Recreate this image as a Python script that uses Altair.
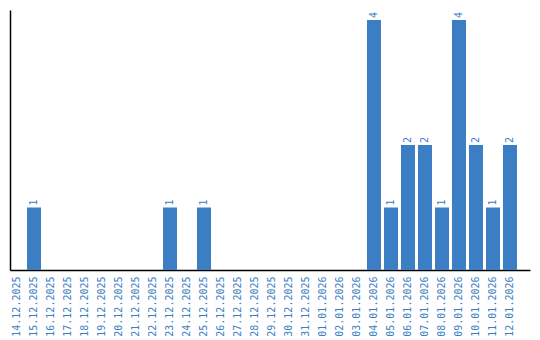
import altair as alt
import pandas as pd

dates = ["14.12.2025", "15.12.2025", "16.12.2025", "17.12.2025", "18.12.2025",
         "19.12.2025", "20.12.2025", "21.12.2025", "22.12.2025", "23.12.2025",
         "24.12.2025", "25.12.2025", "26.12.2025", "27.12.2025", "28.12.2025",
         "29.12.2025", "30.12.2025", "31.12.2025", "01.01.2026", "02.01.2026",
         "03.01.2026", "04.01.2026", "05.01.2026", "06.01.2026", "07.01.2026",
         "08.01.2026", "09.01.2026", "10.01.2026", "11.01.2026", "12.01.2026"]
counts = [0, 1, 0, 0, 0, 0, 0, 0, 0, 1,
          0, 1, 0, 0, 0, 0, 0, 0, 0, 0,
          0, 4, 1, 2, 2, 1, 4, 2, 1, 2]

df = pd.DataFrame({"date": dates, "count": counts})
blue = "#3b7ec3"
font = "DejaVu Sans Mono"

xscale = alt.Scale(paddingInner=0.176, paddingOuter=0.383, align=0)
xaxis = alt.Axis(labelAngle=-90, labelAlign="right", labelBaseline="middle",
                 labelColor=blue, labelFont=font, labelFontSize=10,
                 labelPadding=6, ticks=False, domainColor="black",
                 domainWidth=1.5, grid=False, labelOverlap=False)
yscale = alt.Scale(domain=[0, 4.16], nice=False)
yaxis = alt.Axis(labels=False, ticks=False, grid=False, domainColor="black",
                 domainWidth=1.5)

base = alt.Chart(df).encode(
    x=alt.X("date:N", sort=dates, title=None, scale=xscale, axis=xaxis),
    y=alt.Y("count:Q", title=None, scale=yscale, axis=yaxis),
)
bars = base.mark_bar(color=blue)
text = base.transform_filter("datum.count > 0").mark_text(
    angle=270, align="left", baseline="middle", dx=2, color=blue,
    font=font, fontSize=10
).encode(text="count:Q")

chart = alt.layer(bars, text).properties(
    width=520, height=260,
    padding={"left": 10, "top": 10, "right": 10, "bottom": 0}
).configure_view(stroke=None)

chart.save("out.html", embed_options={"renderer": "svg", "actions": False})
